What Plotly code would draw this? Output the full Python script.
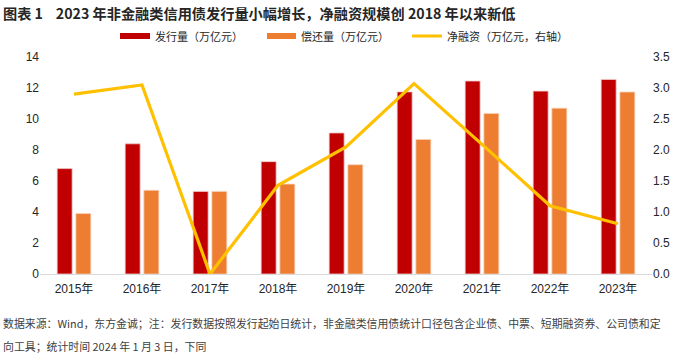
import plotly.graph_objects as go

years = ["2015年", "2016年", "2017年", "2018年", "2019年", "2020年", "2021年", "2022年", "2023年"]
issuance = [6.8, 8.4, 5.33, 7.25, 9.1, 11.75, 12.45, 11.8, 12.55]
repayment = [3.9, 5.4, 5.33, 5.8, 7.05, 8.68, 10.36, 10.7, 11.74]
net_financing = [2.9, 3.05, 0.0, 1.43, 2.05, 3.07, 2.09, 1.1, 0.81]

left_ticks = [0, 2, 4, 6, 8, 10, 12, 14]
right_ticks = [0, 0.5, 1.0, 1.5, 2.0, 2.5, 3.0, 3.5]
right_tick_text = ["0.0", "0.5", "1.0", "1.5", "2.0", "2.5", "3.0", "3.5"]

series_names = ["发行量（万亿元）", "偿还量（万亿元）", "净融资（万亿元，右轴）"]
series_colors = ["#C00000", "#ED7D31", "#FFC000"]

title_text = "图表 1    2023 年非金融类信用债发行量小幅增长，净融资规模创 2018 年以来新低"
note_line1 = "数据来源：Wind，东方金诚；注：发行数据按照发行起始日统计，非金融类信用债统计口径包含企业债、中票、短期融资券、公司债和定"
note_line2 = "向工具；统计时间 2024 年 1 月 3 日，下同"

FONT = "Noto Sans CJK SC"
L, R, T, B = 40, 48, 57, 87
W, H = 700, 361
PW, PH = W - L - R, H - T - B


def px(x):
    return (x - L) / PW


def py(y):
    return (H - B - y) / PH


fig = go.Figure()
fig.add_trace(go.Bar(x=years, y=issuance, name=series_names[0],
                     marker=dict(color=series_colors[0], line=dict(color="#F3C9C9", width=0.8))))
fig.add_trace(go.Bar(x=years, y=repayment, name=series_names[1],
                     marker=dict(color=series_colors[1], line=dict(color="#F8D2B8", width=0.8))))
fig.add_trace(go.Scatter(x=years, y=net_financing, name=series_names[2], yaxis="y2",
                         mode="lines", line=dict(color=series_colors[2], width=3.2)))

# manual legend (rects / line + text)
shapes = [
    dict(type="rect", xref="paper", yref="paper", x0=px(120), x1=px(150), y0=py(39), y1=py(33),
         fillcolor=series_colors[0], line=dict(width=0)),
    dict(type="rect", xref="paper", yref="paper", x0=px(267), x1=px(296), y0=py(39), y1=py(33),
         fillcolor=series_colors[1], line=dict(width=0)),
    dict(type="line", xref="paper", yref="paper", x0=px(412), x1=px(442), y0=py(36), y1=py(36),
         line=dict(color=series_colors[2], width=3)),
]
legend_text_x = [153, 299, 445]
annotations = [
    dict(text=t, xref="paper", yref="paper", x=px(x0), y=py(36), xanchor="left", yanchor="middle",
         showarrow=False, font=dict(family=FONT, size=11, color="#262626"))
    for t, x0 in zip(series_names, legend_text_x)
]
annotations += [
    dict(text="<b>" + title_text + "</b>", xref="paper", yref="paper", x=px(1), y=py(13),
         xanchor="left", yanchor="middle", showarrow=False,
         font=dict(family=FONT, size=14.2, color="#262626")),
    dict(text=note_line1, xref="paper", yref="paper", x=px(1), y=py(323),
         xanchor="left", yanchor="middle", showarrow=False,
         font=dict(family=FONT, size=10.9, color="#404040")),
    dict(text=note_line2, xref="paper", yref="paper", x=px(1), y=py(346),
         xanchor="left", yanchor="middle", showarrow=False,
         font=dict(family=FONT, size=10.9, color="#404040")),
]

fig.update_layout(
    width=W, height=H,
    margin=dict(l=L, r=R, t=T, b=B, autoexpand=False),
    paper_bgcolor="white", plot_bgcolor="white",
    barmode="group", bargap=0.45, bargroupgap=0.2,
    font=dict(family=FONT, size=12, color="#262626"),
    showlegend=False,
    xaxis=dict(showline=True, linecolor="#D9D9D9", linewidth=1, ticks="outside", ticklen=4,
               tickcolor="rgba(0,0,0,0)", showgrid=False, automargin=False,
               tickfont=dict(family="Liberation Sans, " + FONT, size=12, color="#262626")),
    yaxis=dict(range=[0, 14], tickvals=left_ticks, showgrid=False, zeroline=False,
               showline=False, ticks="", automargin=False,
               tickfont=dict(family="Liberation Sans", size=12, color="#262626")),
    yaxis2=dict(range=[0, 3.5], tickvals=right_ticks, ticktext=right_tick_text, overlaying="y",
                side="right", showgrid=False, zeroline=False, showline=False, automargin=False,
                tickfont=dict(family="Liberation Sans", size=12, color="#262626")),
    shapes=shapes,
    annotations=annotations,
)

fig.write_html("out.html", config={"displayModeBar": False},
               post_script="document.body.style.margin='0';document.body.style.overflow='hidden';")
